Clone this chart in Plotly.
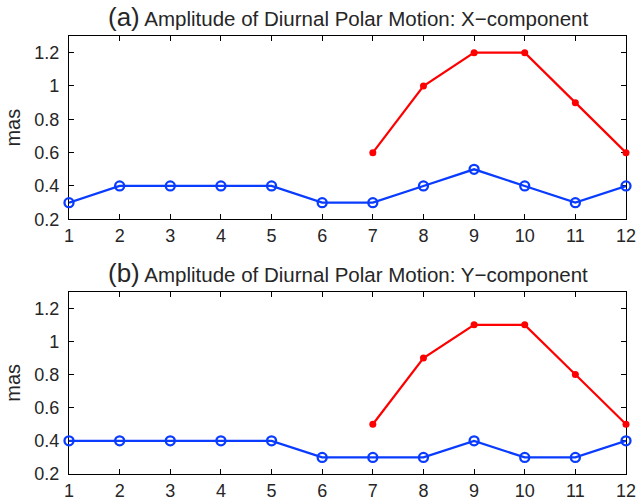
import plotly.graph_objects as go

months = list(range(1, 13))
x_blue = [0.3, 0.4, 0.4, 0.4, 0.4, 0.3, 0.3, 0.4, 0.5, 0.4, 0.3, 0.4]
x_red_months = [7, 8, 9, 10, 11, 12]
x_red = [0.6, 1.0, 1.2, 1.2, 0.9, 0.6]
y_blue = [0.4, 0.4, 0.4, 0.4, 0.4, 0.3, 0.3, 0.3, 0.4, 0.3, 0.3, 0.4]
y_red_months = [7, 8, 9, 10, 11, 12]
y_red = [0.5, 0.9, 1.1, 1.1, 0.8, 0.5]
titles = ["(a)", "(b)"]
subtitles = ["Amplitude of Diurnal Polar Motion: X\u2212component",
             "Amplitude of Diurnal Polar Motion: Y\u2212component"]
yticks = [0.2, 0.4, 0.6, 0.8, 1, 1.2]

W, H = 637, 501
mt, mb, ml, mr = 36, 27, 69, 11
ph = H - mt - mb
def dom(top_px, bot_px):
    a = (H - mb - bot_px) / ph
    b = (H - mb - top_px) / ph
    return [min(max(a, 0), 1), min(max(b, 0), 1)]

BLUE = "#0a3cff"
RED = "#ff0000"
TXT = "#262626"
FONT = "Liberation Sans, Arial, sans-serif"

fig = go.Figure()
series = [(x_blue, x_red_months, x_red), (y_blue, y_red_months, y_red)]
for i, (b, rm, r) in enumerate(series):
    xa = "x" if i == 0 else "x2"
    ya = "y" if i == 0 else "y2"
    fig.add_trace(go.Scatter(x=months, y=b, xaxis=xa, yaxis=ya, mode="lines+markers",
                             line=dict(color=BLUE, width=2.3),
                             marker=dict(symbol="circle-open", size=9, color=BLUE, line=dict(width=2.3)),
                             cliponaxis=False, showlegend=False))
    fig.add_trace(go.Scatter(x=rm, y=r, xaxis=xa, yaxis=ya, mode="lines+markers",
                             line=dict(color=RED, width=2.2),
                             marker=dict(symbol="circle", size=7, color=RED),
                             cliponaxis=False, showlegend=False))

axis_common = dict(showgrid=False, zeroline=False, showline=True, linecolor="black", linewidth=1.2,
                   mirror="ticks", ticks="inside", ticklen=5, tickcolor="black", tickwidth=1,
                   automargin=False, layer="below traces",
                   tickfont=dict(family=FONT, size=18, color=TXT))

doms = [dom(35.7, 219.3), dom(291.7, 474.0)]
layout = dict(width=W, height=H, margin=dict(l=ml, r=mr, t=mt, b=mb, autoexpand=False),
              plot_bgcolor="white", paper_bgcolor="white")
for i in range(2):
    sx = "xaxis" if i == 0 else "xaxis2"
    sy = "yaxis" if i == 0 else "yaxis2"
    layout[sx] = dict(axis_common, range=[1, 12], tickvals=months, anchor="y" if i == 0 else "y2",
                      domain=[0, 1], ticklabelstandoff=0)
    layout[sy] = dict(axis_common, range=[0.2, 1.3], tickvals=yticks, anchor="x" if i == 0 else "x2",
                      domain=doms[i], ticklabelstandoff=5,
                      title=dict(text="mas", standoff=8,
                                 font=dict(family=FONT, size=20, color=TXT)))
fig.update_layout(**layout)

for i in range(2):
    top = doms[i][1]
    fig.add_annotation(xref="paper", yref="paper", x=0.5, y=top, yshift=2, yanchor="bottom",
                       xanchor="center", showarrow=False,
                       text=f"<span style='font-size:26px'>{titles[i]}</span> {subtitles[i]}",
                       font=dict(family=FONT, size=20.5, color=TXT))

fig.write_html("out.html")
